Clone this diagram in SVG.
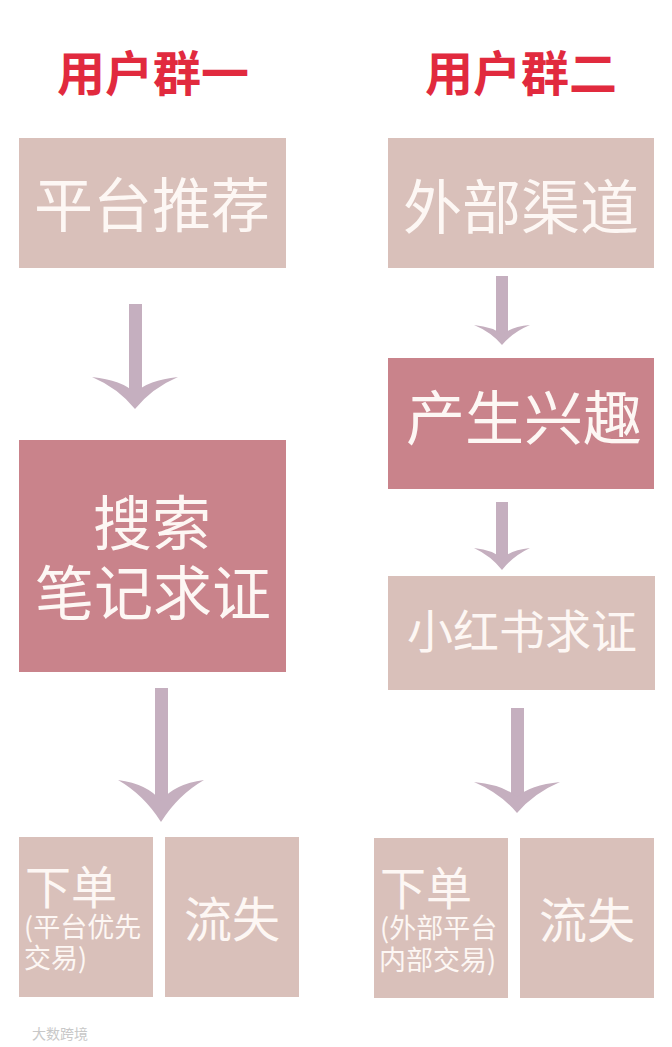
<svg xmlns="http://www.w3.org/2000/svg" width="672" height="1047" viewBox="0 0 672 1047">
<style>
.title{font-family:"Noto Sans CJK SC","Liberation Sans",sans-serif;font-weight:700;font-size:48px;fill:#e12a3e}
.light{fill:#d9c0ba}
.dark{fill:#c9838b}
.t{font-family:"Noto Sans CJK SC","Liberation Sans",sans-serif;fill:#fdf7f4;font-weight:400}
.arrow{fill:#c5afbf}
.wm{font-family:"Noto Sans CJK SC",sans-serif;font-size:14px;fill:#c8c8c8}
</style>
<rect width="672" height="1047" fill="#ffffff"/>
<text class="title" x="153" y="91" text-anchor="middle">用户群一</text>
<text class="title" x="521" y="91" text-anchor="middle">用户群二</text>

<g id="connectors">
  <rect class="arrow" x="129" y="304" width="13" height="90"/>
  <path class="arrow" d="M92,377 Q118,388 135,409 Q152,388 178,377 Q148,380 135,393 Q122,380 92,377 Z"/>
  <rect class="arrow" x="496" y="276" width="12" height="60"/>
  <path class="arrow" d="M474,325 Q491,332 502,345 Q513,332 530,325 Q510,327 502,335 Q494,327 474,325 Z"/>
  <rect class="arrow" x="496" y="502" width="12" height="58"/>
  <path class="arrow" d="M474,548 Q491,556 502,570 Q513,556 530,548 Q510,550 502,559 Q494,550 474,548 Z"/>
  <rect class="arrow" x="155" y="688" width="13" height="114"/>
  <path class="arrow" d="M118,780 Q144,795 161,822 Q178,795 204,780 Q174,784 161,801 Q148,784 118,780 Z"/>
  <rect class="arrow" x="511" y="708" width="13" height="90"/>
  <path class="arrow" d="M474,782 Q500,793 517,813 Q534,793 560,782 Q530,785 517,797 Q504,785 474,782 Z"/>
</g>

<g id="n-platform">
  <rect class="light" x="19" y="138" width="267" height="130"/>
  <text class="t" x="152" y="227" font-size="59" text-anchor="middle">平台推荐</text>
</g>
<g id="n-external">
  <rect class="light" x="388" y="138" width="266" height="130"/>
  <text class="t" x="521" y="229" font-size="59" text-anchor="middle">外部渠道</text>
</g>
<g id="n-interest">
  <rect class="dark" x="388" y="358" width="266" height="131"/>
  <text class="t" x="524" y="440" font-size="59" text-anchor="middle">产生兴趣</text>
</g>
<g id="n-search">
  <rect class="dark" x="19" y="440" width="267" height="232"/>
  <text class="t" x="152" y="545" font-size="59" text-anchor="middle">搜索</text>
  <text class="t" x="153" y="615" font-size="59" text-anchor="middle">笔记求证</text>
</g>
<g id="n-xhs">
  <rect class="light" x="388" y="576" width="267" height="114"/>
  <text class="t" x="522" y="648" font-size="46" text-anchor="middle">小红书求证</text>
</g>
<g id="n-order1">
  <rect class="light" x="19" y="837" width="134" height="160"/>
  <text class="t" x="25" y="904" font-size="46">下单</text>
  <text class="t" x="24" y="937" font-size="27">(平台优先</text>
  <text class="t" x="24" y="968" font-size="27">交易)</text>
</g>
<g id="n-lost1">
  <rect class="light" x="165" y="837" width="134" height="160"/>
  <text class="t" x="232" y="937" font-size="48" text-anchor="middle">流失</text>
</g>
<g id="n-order2">
  <rect class="light" x="374" y="838" width="134" height="160"/>
  <text class="t" x="380" y="905" font-size="46">下单</text>
  <text class="t" x="380" y="938" font-size="27">(外部平台</text>
  <text class="t" x="379" y="970" font-size="27">内部交易)</text>
</g>
<g id="n-lost2">
  <rect class="light" x="520" y="838" width="134" height="160"/>
  <text class="t" x="587" y="938" font-size="48" text-anchor="middle">流失</text>
</g>
<text class="wm" x="32" y="1039">大数跨境</text>
</svg>
